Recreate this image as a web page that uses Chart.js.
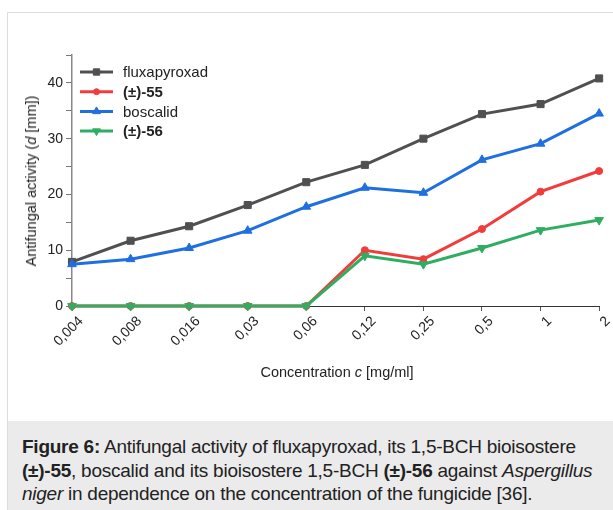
<!DOCTYPE html>
<html>
<head>
<meta charset="utf-8">
<script src="https://cdn.jsdelivr.net/npm/chart.js@4/dist/chart.umd.min.js"></script>
<style>
  body { margin: 0; background: #fff; font-family: "Liberation Sans", Arial, sans-serif; }
  #frame { position: absolute; left: 7px; top: 12px; width: 606px; height: 498px;
           border-left: 1px solid #dddddd; border-top: 1px solid #dddddd; }
  #wrap { position: absolute; left: 0; top: 0; width: 613px; height: 410px; }
  #ytitle { position: absolute; left: 31px; top: 181px; transform: translate(-50%, -50%) rotate(-90deg);
            white-space: nowrap; font-size: 14.5px; color: #222; }
  #xtitle { position: absolute; left: 337px; top: 372px; transform: translate(-50%, -50%);
            white-space: nowrap; font-size: 14.5px; color: #222; }
  #caption { position: absolute; left: 8px; top: 421px; width: 605px; height: 89px; background: #ebebeb; }
  #caption p { margin: 0; position: absolute; left: 14px; top: 14px; font-size: 19px; line-height: 23.5px;
               letter-spacing: -0.25px; color: #222; white-space: nowrap; }
</style>
</head>
<body>
<div id="frame"></div>
<div id="wrap"><canvas id="myChart"></canvas></div>
<div id="ytitle">Antifungal activity (<i>d</i> [mm])</div>
<div id="xtitle">Concentration <i>c</i> [mg/ml]</div>
<div id="caption"><p><b>Figure 6:</b> Antifungal activity of fluxapyroxad, its 1,5-BCH bioisostere<br><b>(±)-55</b>, boscalid and its bioisostere 1,5-BCH <b>(±)-56</b> against <i>Aspergillus</i><br><i>niger</i> in dependence on the concentration of the fungicide [36].</p></div>
<script>
// concentrations in mg/ml, inhibition zone diameter d in mm
const concLabels = ["0,004", "0,008", "0,016", "0,03", "0,06", "0,12", "0,25", "0,5", "1", "2"];
const fluxapyroxad = [7.9, 11.7, 14.3, 18.1, 22.2, 25.3, 30.0, 34.4, 36.2, 40.8];
const comp55 = [0, 0, 0, 0, 0, 10.0, 8.4, 13.8, 20.5, 24.2];
const boscalid = [7.5, 8.4, 10.4, 13.5, 17.8, 21.2, 20.3, 26.2, 29.1, 34.5];
const comp56 = [0, 0, 0, 0, 0, 9.0, 7.5, 10.4, 13.6, 15.4];

const seriesNames = ["fluxapyroxad", "(±)-55", "boscalid", "(±)-56"];
const boldNames = [false, true, false, true];

function series(label, data, color, style, radius, rot, order) {
  return {
    label: label,
    data: data,
    borderColor: color,
    backgroundColor: color,
    borderWidth: 3,
    pointStyle: style,
    pointRadius: radius,
    pointRotation: rot,
    pointBorderWidth: 1,
    tension: 0,
    clip: false,
    order: order,
  };
}

// legend drawn by hand so that compound numbers can be bold
const legendPlugin = {
  id: "sideLegend",
  afterDatasetsDraw(chart) {
    const ctx = chart.ctx;
    const x0 = 80, y0 = 72, rowH = 19.7;
    chart.data.datasets.forEach((ds, i) => {
      const y = y0 + i * rowH;
      ctx.save();
      ctx.strokeStyle = ds.borderColor;
      ctx.fillStyle = ds.backgroundColor;
      ctx.lineWidth = 3;
      ctx.beginPath();
      ctx.moveTo(x0, y);
      ctx.lineTo(x0 + 33, y);
      ctx.stroke();
      ctx.lineWidth = 1;
      Chart.helpers.drawPoint(ctx, {
        pointStyle: ds.pointStyle,
        rotation: ds.pointRotation,
        radius: ds.pointRadius - 0.5,
        borderWidth: 1,
      }, x0 + 16.5, y);
      ctx.fillStyle = "#222";
      ctx.font = (boldNames[i] ? "bold " : "") + "15px 'Liberation Sans', Arial, sans-serif";
      ctx.textBaseline = "middle";
      ctx.fillText(seriesNames[i], x0 + 43, y + 1);
      ctx.restore();
    });
  },
};

const ctx = document.getElementById("myChart").getContext("2d");
const myChart = new Chart(ctx, {
  type: "line",
  data: {
    labels: concLabels,
    datasets: [
      series(seriesNames[0], fluxapyroxad, "#505050", "rect", 5, 0, 4),
      series(seriesNames[1], comp55, "#f23c3c", "circle", 3.5, 0, 3),
      series(seriesNames[2], boscalid, "#1f6fe0", "triangle", 5, 0, 2),
      series(seriesNames[3], comp56, "#2fae62", "triangle", 5, 180, 1),
    ],
  },
  options: {
    responsive: true,
    maintainAspectRatio: false,
    animation: false,
    layout: { padding: { left: 20, top: 55, right: 13, bottom: 44 } },
    plugins: {
      legend: { display: false },
      tooltip: { enabled: false },
    },
    scales: {
      x: {
        offset: false,
        afterFit(scale) { scale.height = 60; },
        border: { color: "#333", width: 1 },
        grid: { drawOnChartArea: false, drawTicks: true, tickLength: 5, color: "#555" },
        ticks: {
          autoSkip: false,
          maxRotation: 45,
          minRotation: 45,
          padding: 2,
          labelOffset: 9,
          color: "#222",
          font: { size: 14, family: "'Liberation Sans', Arial, sans-serif" },
        },
      },
      y: {
        min: 0,
        max: 45,
        afterFit(scale) { scale.width = 52; },
        border: { color: "#888", width: 1.5 },
        grid: { drawOnChartArea: false, drawTicks: true, tickLength: 6, color: "#777" },
        ticks: {
          stepSize: 5,
          padding: 3,
          color: "#222",
          font: { size: 14, family: "'Liberation Sans', Arial, sans-serif" },
          callback: (v) => (v % 10 === 0 ? v : ""),
        },
      },
    },
  },
  plugins: [legendPlugin],
});
</script>
</body>
</html>
